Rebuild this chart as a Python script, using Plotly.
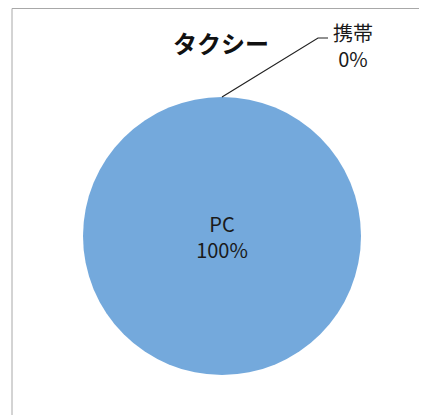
import plotly.graph_objects as go

# data
title = "タクシー"
labels = ["PC", "携帯"]
values = [100, 0]

# the page body has an 8px margin, so the figure starts at (8, 8)
OFF = 8
W, H = 427 - OFF, 415 - OFF
FONT = "Noto Sans CJK JP, Noto Sans, sans-serif"


def px(x, y):
    # page pixel -> paper coordinates
    return (x - OFF) / W, 1 - (y - OFF) / H


total = sum(values)
pcts = [f"{round(v / total * 100)}%" for v in values]

x0, y0 = px(83, 375)
x1, y1 = px(361, 97)

fig = go.Figure(go.Pie(
    labels=labels,
    values=values,
    sort=False,
    direction="clockwise",
    rotation=0,
    marker=dict(colors=["#74a9dc", "#e47a35"], line=dict(width=0)),
    texttemplate=[f"{labels[0]}<br>{pcts[0]}", ""],
    textposition="inside",
    insidetextfont=dict(family=FONT, size=20, color="#1a1a1a"),
    hoverinfo="label+percent",
    showlegend=False,
    domain=dict(x=[x0, x1], y=[y0, y1]),
))

# title
tx, ty = px(221, 43)
fig.add_annotation(x=tx, y=ty, xref="paper", yref="paper", text=f"<b>{title}</b>",
                   xanchor="center", yanchor="middle", showarrow=False,
                   font=dict(family=FONT, size=24, color="#111"))

# label for the zero slice, outside with leader line
lx, ly = px(353, 45)
fig.add_annotation(x=lx, y=ly, xref="paper", yref="paper",
                   text=f"{labels[1]}<br>{pcts[1]}", showarrow=False,
                   xanchor="center", yanchor="middle",
                   font=dict(family=FONT, size=20, color="#1a1a1a"))

p0 = px(222, 97)
p1 = px(318, 38)
p2 = px(328, 38)
fig.add_shape(type="path", xref="paper", yref="paper",
              path=f"M {p0[0]},{p0[1]} L {p1[0]},{p1[1]} L {p2[0]},{p2[1]}",
              line=dict(color="#222", width=1.2))

# chart frame (left + top edges visible)
a = px(12, 8.5)
b = px(12, 415)
c = px(427, 8.5)
for e in (b, c):
    fig.add_shape(type="line", xref="paper", yref="paper", x0=a[0], y0=a[1], x1=e[0], y1=e[1],
                  line=dict(color="#a8a8a8", width=1))

fig.update_layout(
    width=W, height=H,
    margin=dict(l=0, r=0, t=0, b=0),
    paper_bgcolor="white",
    plot_bgcolor="white",
)

fig.write_html("out.html")
